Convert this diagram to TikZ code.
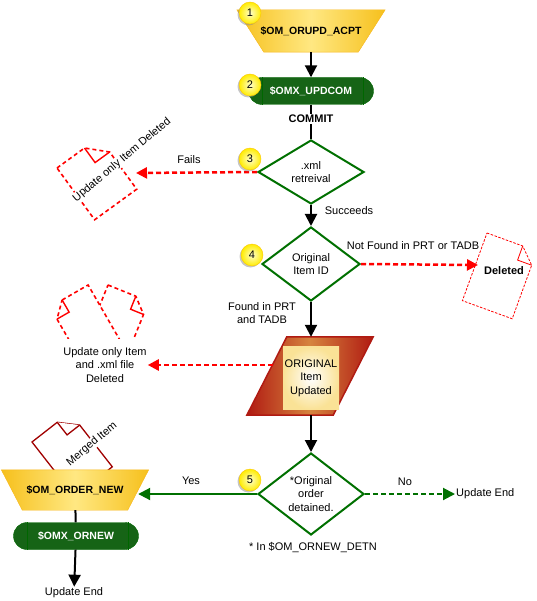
\documentclass[tikz,border=0pt]{standalone}
\usepackage{fontspec}
\setmainfont{Liberation Sans}
\usetikzlibrary{shapes.geometric,arrows.meta,shadows}
\definecolor{flowgreen}{RGB}{0,112,0}
\definecolor{darkgreen}{RGB}{22,100,22}
\definecolor{gold}{RGB}{246,192,28}
\definecolor{lightgold}{RGB}{255,232,130}
\definecolor{docred}{RGB}{160,0,0}
\definecolor{brick}{RGB}{176,26,18}
\definecolor{tan}{RGB}{214,132,62}
\definecolor{cream}{RGB}{250,226,150}
\tikzstyle{txt} = [font={\fontsize{11}{13.5}\selectfont}, align=center, inner sep=1pt]
\tikzstyle{bold} = [font={\fontsize{11}{13.5}\selectfont\bfseries}]
\tikzstyle{badge} = [circle, minimum size=22pt, inner sep=0pt, inner color=yellow!20, outer color=yellow!85!orange, draw=yellow!60!orange, drop shadow={shadow xshift=-1.5pt, shadow yshift=-1.5pt, fill=black!45}, font={\fontsize{11}{13}\selectfont}]
\tikzstyle{trapbody} = [rectangle, inner sep=0pt, font={\fontsize{10.5}{12}\selectfont\bfseries}]
\tikzstyle{trapfill} = [left color=gold, right color=gold, middle color=lightgold, draw=gold!85!orange]
\tikzstyle{proc} = [rectangle, rounded corners=13.5pt, minimum width=125pt, minimum height=27pt, fill=darkgreen, draw=black!60!green, text=white, font={\fontsize{10.5}{12}\selectfont\bfseries}]
\tikzstyle{decision} = [diamond, draw=flowgreen, line width=2pt, fill=white, align=center, inner sep=0pt, font={\fontsize{11}{13.5}\selectfont}]
\tikzstyle{parafill} = [left color=brick, right color=brick, middle color=tan, draw=brick, line width=1.5pt]
\tikzstyle{flow} = [-{Triangle[length=12pt,width=12pt]}, line width=2pt]
\tikzstyle{fail} = [-{Triangle[length=11pt,width=11pt]}, red, line width=2.5pt, dash pattern=on 5pt off 3pt]
\tikzstyle{yesflow} = [flow, flowgreen]
\tikzstyle{noflow} = [flow, flowgreen, dash pattern=on 5pt off 3pt]
\tikzstyle{docline} = [red, line width=1.6pt, dash pattern=on 4pt off 3pt, fill=white]
\tikzstyle{thindoc} = [red, line width=0.8pt, dash pattern=on 2.5pt off 1.5pt, fill=white]
\tikzstyle{mergeline} = [docred, line width=1.3pt, fill=white]
\begin{document}
\begin{tikzpicture}[x=1pt,y=-1pt]
  \useasboundingbox (0,0) rectangle (536,601);
  % main column
  \node[trapbody, minimum width=121pt, minimum height=42pt](t1) at (311,31){};
  \draw[trapfill] ([xshift=-13.5pt]t1.north west) -- ([xshift=13.5pt]t1.north east)
    -- ([xshift=-13.5pt]t1.south east) -- ([xshift=13.5pt]t1.south west) -- cycle;
  \node[trapbody] at (t1){\$OM\_ORUPD\_ACPT};
  \node[proc](s2) at (311,91){\$OMX\_UPDCOM};
  \draw[black!60!green] ([xshift=13.5pt]s2.north west) -- ([xshift=13.5pt]s2.south west);
  \draw[black!60!green] ([xshift=-11pt]s2.north east) -- ([xshift=-11pt]s2.south east);
  \node[decision, minimum width=106pt, minimum height=64pt](d3) at (311,172){.xml\\retreival};
  \node[decision, minimum width=98pt, minimum height=74pt](d4) at (311,264){Original\\Item ID};
  \node[rectangle, inner sep=0pt, minimum width=86pt, minimum height=78pt](p) at (310,376){};
  \draw[parafill] ([xshift=-20pt]p.south west) -- ([xshift=-20pt]p.south east)
    -- ([xshift=20pt]p.north east) -- ([xshift=20pt]p.north west) -- cycle;
  \node[txt, minimum width=56pt, minimum height=63pt, inner color=white, outer color=cream](pin) at (311,378){ORIGINAL\\Item\\Updated};
  \node[decision, minimum width=106pt, minimum height=82pt](d5) at (311,494){*Original\\order\\detained.};

  % side documents
  \begin{scope}[shift={(57,168)},rotate=36]
    \draw[docline] (0,0)--(34,0)--(52,18)--(52,64)--(0,64)--cycle;
    \draw[red,line width=1.4pt] (34,0)--(34,18)--(52,18);
  \end{scope}
  \node[txt, rotate=40, fill=white, inner sep=0.5pt](updone) at (122,160){Update only Item Deleted};
  \begin{scope}[shift={(487,233)},rotate=-20]
    \draw[thindoc] (0,0)--(38,0)--(53,15)--(53,72)--(0,72)--cycle;
    \draw[red,line width=0.8pt] (38,0)--(38,15)--(53,15);
  \end{scope}
  \node[txt, bold](deleted) at (504,271){Deleted};
  \begin{scope}
    \clip (0,270) rectangle (200,338);
    \begin{scope}[shift={(108,285)},rotate=-22]
      \draw[docline] (0,0)--(30,0)--(44,14)--(44,70)--(0,70)--cycle;
      \draw[red,line width=1.4pt] (30,0)--(30,14)--(44,14);
    \end{scope}
    \begin{scope}[shift={(50,307)},rotate=30]
      \draw[docline] (14,0)--(44,0)--(44,70)--(0,70)--(0,14)--cycle;
      \draw[red,line width=1.4pt] (14,0)--(14,14)--(0,14);
    \end{scope}
  \end{scope}
  \node[txt](ui) at (105,365){Update only Item\\and .xml file\\Deleted};
  \begin{scope}[shift={(32,442)},rotate=38]
    \draw[mergeline] (0,0)--(32,0)--(48,16)--(48,69)--(0,69)--cycle;
    \draw[mergeline] (32,0)--(32,16)--(48,16);
  \end{scope}
  \node[txt, rotate=40, fill=white, inner sep=0.5pt](merged) at (92,444){Merged Item};

  % left column
  \node[trapbody, minimum width=126pt, minimum height=40pt](t6) at (75,490){};
  \draw[trapfill] ([xshift=-10.5pt]t6.north west) -- ([xshift=10.5pt]t6.north east)
    -- ([xshift=-10.5pt]t6.south east) -- ([xshift=10.5pt]t6.south west) -- cycle;
  \node[trapbody] at (t6){\$OM\_ORDER\_NEW};
  \node[proc](s7) at (76,536){\$OMX\_ORNEW};
  \draw[black!60!green] ([xshift=13.5pt]s7.north west) -- ([xshift=13.5pt]s7.south west);
  \draw[black!60!green] ([xshift=-11pt]s7.north east) -- ([xshift=-11pt]s7.south east);
  \node[txt](end2) at (74,593){Update End};
  \node[txt, anchor=west](end1) at (455,494){Update End};
  \node[txt](foot) at (313,548){* In \$OM\_ORNEW\_DETN};

  % connectors
  \coordinate(failend) at (136,173);
  \coordinate(delend) at (478,265);
  \coordinate(pleft) at ([xshift=6pt]p.west);
  \draw[flow](t1)--(s2);
  \draw[line width=2pt](s2)--(d3);
  \node[txt, bold, fill=white](commit) at (311,119){COMMIT};
  \draw[flow](d3)--(d4);
  \draw[flow](d4.south)--(d4.south |- p.north);
  \draw[flow](d5.north |- p.south)--(d5.north);
  \draw[fail](d3.west)--(failend);
  \draw[fail](d4.east)--(delend);
  \draw[fail](pleft |- ui.east)--(ui.east);
  \draw[yesflow](d5.west)--(d5.west -| t6.east);
  \draw[noflow](d5.east)--(end1.west);
  \draw[line width=2pt](t6)--(s7);
  \draw[flow](s7)--(end2);

  % connector labels
  \node[txt](fails) at (189,160){Fails};
  \node[txt](succ) at (349,211){Succeeds};
  \node[txt](notfound) at (413,246){Not Found in PRT or TADB};
  \node[txt](found) at (262,313){Found in PRT\\and TADB};
  \node[txt](yes) at (191,481){Yes};
  \node[txt](no) at (405,482){No};

  % step badges
  \node[badge](b1) at (250,13){1};
  \node[badge](b2) at (250,85){2};
  \node[badge](b3) at (250,159){3};
  \node[badge](b4) at (252,255){4};
  \node[badge](b5) at (250,480){5};
\end{tikzpicture}
\end{document}
